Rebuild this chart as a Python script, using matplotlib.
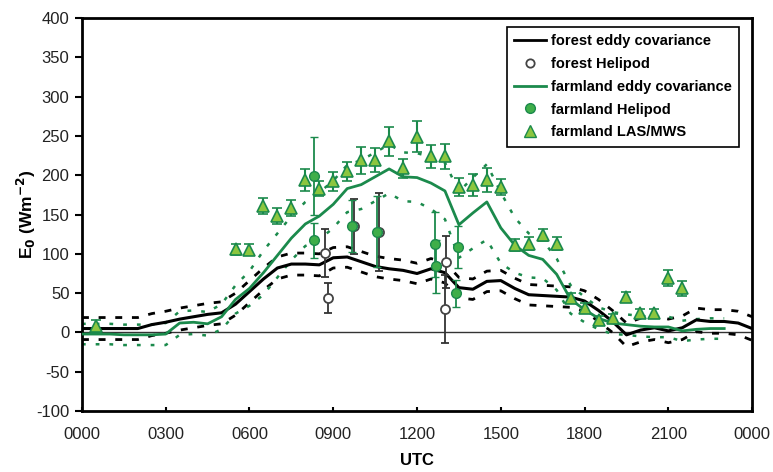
import matplotlib
matplotlib.use("Agg")
import matplotlib.pyplot as plt
from matplotlib.lines import Line2D

plt.rcParams['font.family'] = ['Liberation Sans', 'DejaVu Sans']
plt.rcParams['axes.unicode_minus'] = False

# half-hourly eddy covariance (UTC hours)
ec_hours = [0.0, 0.5, 1.0, 1.5, 2.0, 2.5, 3.0, 3.5, 4.0, 4.5, 5.0, 5.5, 6.0, 6.5,
            7.0, 7.5, 8.0, 8.5, 9.0, 9.5, 10.0, 10.5, 11.0, 11.5, 12.0, 12.5,
            13.0, 13.5, 14.0, 14.5, 15.0, 15.5, 16.0, 16.5, 17.0, 17.5, 18.0,
            18.5, 19.0, 19.5, 20.0, 20.5, 21.0, 21.5, 22.0, 22.5, 23.0, 23.5, 24.0]

forest_ec = [5, 5, 5, 5, 5, 10, 13, 17, 20, 23, 25, 36, 52, 68,
             82, 87, 87, 86, 95, 96, 90, 84, 81, 79, 75, 81,
             76, 57, 55, 65, 66, 56, 48, 47, 46, 45, 40,
             28, 14, -3, 3, 6, 2, 6, 16, 14, 14, 12, 5]
forest_err = [14, 14, 14, 14, 14, 14, 14, 14, 14, 14, 14, 14, 14, 14,
              14, 14, 14, 14, 13, 13, 13, 13, 13, 13, 13, 13,
              13, 13, 13, 13, 13, 13, 13, 13, 13, 13, 13,
              14, 14, 15, 15, 15, 15, 15, 15, 15, 15, 15, 15]

farm_ec_hours = ec_hours[:47]
farm_ec = [-2, -2, -2, -3, -3, -3, -2, 12, 13, 11, 20, 42, 56, 76,
           98, 120, 138, 148, 163, 183, 188, 198, 208, 198, 197, 190,
           180, 137, 152, 166, 133, 111, 98, 93, 74, 42, 29,
           18, 12, 10, 8, 7, 7, 2, 4, 5, 5]
farm_err = [13, 13, 13, 13, 13, 13, 14, 15, 15, 15, 16, 18, 22, 28,
            28, 28, 28, 30, 30, 30, 31, 31, 31, 31, 31, 33,
            36, 42, 45, 48, 45, 35, 28, 24, 20, 18, 16,
            14, 14, 13, 13, 13, 13, 13, 13, 13, 13]

# helipod flights
forest_heli_t = [8.72, 8.8, 9.75, 10.65, 13.05, 13.0]
forest_heli = [101, 44, 135, 128, 90, 30]
forest_heli_err = [31, 19, 35, 50, 33, 43]

farm_heli_t = [8.3, 8.3, 9.68, 10.57, 12.65, 12.68, 13.45, 13.4]
farm_heli = [199, 117, 135, 128, 112, 84, 109, 50]
farm_heli_err = [49, 22, 33, 45, 41, 34, 27, 17]

# scintillometer
las_t = [0.5, 5.5, 6.0, 6.5, 7.0, 7.5, 8.0, 8.5, 9.0, 9.5, 10.0, 10.5, 11.0,
         11.5, 12.0, 12.5, 13.0, 13.5, 14.0, 14.5, 15.0, 15.5, 16.0, 16.5,
         17.0, 17.5, 18.0, 18.5, 19.0, 19.5, 20.0, 20.5, 21.0, 21.5]
las = [8, 106, 105, 161, 148, 158, 194, 183, 192, 205, 219, 219, 243,
       209, 249, 224, 224, 185, 188, 194, 185, 111, 113, 124,
       113, 44, 31, 16, 18, 45, 25, 25, 69, 56]
las_err = [8, 7, 7, 10, 10, 10, 14, 10, 12, 12, 17, 15, 18,
           12, 20, 15, 16, 12, 14, 15, 10, 8, 8, 8,
           8, 6, 6, 5, 5, 6, 5, 5, 10, 10]

xticks = [0, 3, 6, 9, 12, 15, 18, 21, 24]
xlabels = ['0000', '0300', '0600', '0900', '1200', '1500', '1800', '2100', '0000']

GREEN = '#1b8a4c'
LIGHT = '#8cc63f'
CIRC = '#3fae49'

fig = plt.figure(figsize=(7.73, 4.72), dpi=100)
ax = fig.add_axes([0.106, 0.129, 0.867, 0.833])

ax.axhline(0, color='#333333', lw=1.0, zorder=1)

f_hi = [v + e for v, e in zip(forest_ec, forest_err)]
f_lo = [v - e for v, e in zip(forest_ec, forest_err)]
g_hi = [v + e for v, e in zip(farm_ec, farm_err)]
g_lo = [v - e for v, e in zip(farm_ec, farm_err)]

ax.plot(ec_hours, f_hi, color='black', lw=2, ls=(0, (2.5, 3.5)), zorder=2)
ax.plot(ec_hours, f_lo, color='black', lw=2, ls=(0, (2.5, 3.5)), zorder=2)
ax.plot(farm_ec_hours, g_hi, color=GREEN, lw=1.8, ls=(0, (1.5, 4)), zorder=2)
ax.plot(farm_ec_hours, g_lo, color=GREEN, lw=1.8, ls=(0, (1.5, 4)), zorder=2)
ax.plot(ec_hours, forest_ec, color='black', lw=2.2, zorder=3)
ax.plot(farm_ec_hours, farm_ec, color=GREEN, lw=2.0, zorder=3)

ax.errorbar(forest_heli_t, forest_heli, yerr=forest_heli_err, fmt='o',
            ms=6.5, mfc='white', mec='#444444', mew=1.3, ecolor='#333333',
            elinewidth=1.3, capsize=3, capthick=1.3, zorder=4)
ax.errorbar(farm_heli_t, farm_heli, yerr=farm_heli_err, fmt='o',
            ms=7, mfc=CIRC, mec=GREEN, mew=1.0, ecolor=GREEN,
            elinewidth=1.3, capsize=3, capthick=1.3, zorder=5)
ax.errorbar(las_t, las, yerr=las_err, fmt='^',
            ms=8, mfc=LIGHT, mec=GREEN, mew=1.2, ecolor=GREEN,
            elinewidth=1.5, capsize=3.5, capthick=1.5, zorder=6)

ax.set_xlim(0, 24)
ax.set_ylim(-100, 400)
ax.set_xticks(xticks)
ax.set_xticklabels(xlabels)
ax.set_yticks(range(-100, 401, 50))
ax.tick_params(axis='y', direction='out', length=5, width=1.5, labelsize=12,
               pad=4, labelcolor='#222222')
ax.tick_params(axis='x', direction='in', length=3, width=1.5, labelsize=12,
               pad=11.5, labelcolor='#222222')
for s in ax.spines.values():
    s.set_linewidth(2)

ax.set_xlabel('UTC', fontsize=12, fontweight='bold', labelpad=8)
ax.set_ylabel(r'E$_\mathbf{0}$ (Wm$^\mathbf{-2}$)', fontsize=12.5, fontweight='bold', labelpad=-1)

handles = [
    Line2D([], [], color='black', lw=2),
    Line2D([], [], ls='none', marker='o', ms=6, mfc='white', mec='#444444', mew=1.3),
    Line2D([], [], color=GREEN, lw=2),
    Line2D([], [], ls='none', marker='o', ms=7, mfc=CIRC, mec=GREEN),
    Line2D([], [], ls='none', marker='^', ms=8, mfc=LIGHT, mec=GREEN),
]
labels = ['forest eddy covariance', 'forest Helipod', 'farmland eddy covariance',
          'farmland Helipod', 'farmland LAS/MWS']
leg = ax.legend(handles, labels, loc='upper right', bbox_to_anchor=(0.98, 0.977),
                borderaxespad=0, fancybox=False, edgecolor='black', framealpha=1,
                handlelength=2.2, handletextpad=0.3, labelspacing=0.6,
                borderpad=0.5, prop={'size': 10.5, 'weight': 'bold'})
leg.get_frame().set_linewidth(1.2)

fig.savefig('out.png', dpi=100)
